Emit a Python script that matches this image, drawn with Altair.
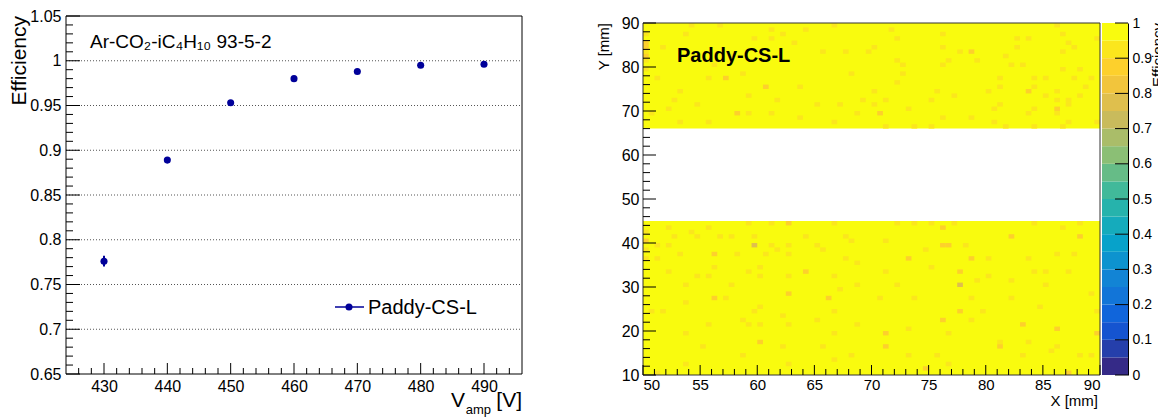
import altair as alt
import pandas as pd

# ---------------- Left panel: efficiency vs amplification voltage ----------------
voltage = [430, 440, 450, 460, 470, 480, 490]
efficiency = [0.776, 0.889, 0.953, 0.980, 0.988, 0.995, 0.996]
eff_error = [0.006, 0.003, 0.002, 0.0015, 0.0012, 0.001, 0.001]
detector_name = "Paddy-CS-L"
gas_label = "Ar-CO₂-iC₄H₁₀ 93-5-2"
v_domain = [424, 496]
eff_domain = [0.65, 1.05]
v_ticks = [430, 440, 450, 460, 470, 480, 490]
v_minor_ticks = [v for v in range(426, 496, 2) if v % 10]
eff_ticks = [0.65, 0.7, 0.75, 0.8, 0.85, 0.9, 0.95, 1.0, 1.05]
eff_minor_ticks = [round(0.65 + 0.01 * i, 2) for i in range(1, 40) if i % 5]
eff_grid = [0.7, 0.75, 0.8, 0.85, 0.9, 0.95, 1.0]

# ---------------- Right panel: efficiency map ----------------
map_x_domain = [50, 90]
map_y_domain = [10, 90]
map_x_ticks = [50, 55, 60, 65, 70, 75, 80, 85, 90]
map_x_minor = [v for v in range(51, 90) if v % 5]
map_y_ticks = [10, 20, 30, 40, 50, 60, 70, 80, 90]
map_y_minor = [v for v in range(12, 90, 2) if v % 10]
bin_width_x = 0.5   # mm
bin_height_y = 1.0  # mm
covered_y_lo = [10, 66]
covered_y_hi = [45, 90]
base_eff = 0.98
# (x bin index from 50 mm, lower y edge in mm) of cells below the top colour band
cells_093 = [
    (8, 89), (13, 89), (22, 88), (24, 87), (28, 88), (33, 89), (0, 87), (0, 83), (0, 81), (0, 79),
    (3, 84), (19, 86), (22, 86), (31, 83), (35, 83), (39, 83), (12, 80), (17, 78), (11, 77), (27, 75),
    (18, 73), (6, 74), (5, 72), (9, 71), (23, 72), (30, 71), (34, 71), (38, 72), (4, 70), (18, 69),
    (22, 69), (27, 68), (37, 69), (6, 67), (11, 67), (33, 67), (2, 77), (1, 69), (36, 78), (15, 82),
    (26, 85), (7, 87),
    (43, 88), (44, 86), (52, 87), (65, 86), (67, 86), (72, 89), (73, 87), (74, 85), (75, 84), (79, 86),
    (40, 84), (52, 84), (55, 83), (65, 84), (73, 83), (63, 82), (44, 81), (53, 81), (58, 81), (45, 80),
    (52, 80), (64, 80), (66, 80), (45, 78), (73, 79), (76, 79), (62, 77), (68, 77), (70, 77), (75, 77),
    (78, 77), (44, 76), (62, 75), (68, 75), (77, 75), (40, 74), (51, 74), (60, 74), (72, 74), (54, 73),
    (70, 73), (42, 72), (50, 72), (72, 72), (74, 72), (76, 73), (40, 71), (62, 71), (74, 71), (46, 70),
    (61, 70), (68, 70), (67, 69), (72, 69), (52, 68), (57, 68), (61, 67), (74, 67), (79, 67), (42, 66),
    (47, 66), (50, 66), (63, 66), (68, 66), (73, 66),
    (0, 42), (0, 38), (0, 36), (4, 43), (5, 41), (8, 42), (9, 41), (11, 43), (13, 41), (15, 41),
    (18, 44), (19, 41), (22, 44), (28, 41), (33, 44), (35, 41), (36, 40), (2, 39), (4, 39), (22, 39),
    (25, 39), (30, 39), (31, 38), (6, 37), (16, 37), (21, 37), (23, 38), (25, 37), (2, 36), (35, 36),
    (37, 35), (12, 34), (18, 33), (20, 34), (9, 32), (11, 32), (20, 32), (25, 32), (33, 32), (4, 33),
    (15, 30), (7, 30), (34, 29), (37, 30), (14, 27), (7, 26), (20, 25), (1, 24), (3, 24), (19, 24),
    (33, 24), (17, 22), (24, 23), (30, 22), (11, 21), (7, 19), (18, 21), (20, 21), (25, 21), (33, 19),
    (37, 21), (24, 16), (31, 16), (10, 16), (36, 14), (17, 14), (25, 12), (33, 13), (2, 10), (7, 12),
    (44, 44), (47, 44), (50, 44), (54, 44), (68, 44), (73, 43), (76, 44), (42, 40), (56, 39), (49, 38),
    (60, 36), (67, 36), (72, 37), (75, 37), (50, 34), (60, 32), (68, 33), (70, 33), (74, 33), (42, 33),
    (44, 30), (58, 31), (64, 31), (70, 30), (78, 28), (41, 27), (47, 27), (57, 27), (64, 27), (59, 24),
    (69, 25), (79, 24), (57, 22), (46, 20), (53, 19), (62, 17), (67, 17), (46, 14), (71, 15), (72, 16),
    (76, 14), (51, 14), (66, 14), (53, 12), (78, 14),
]
cells_088 = [
    (0, 85), (0, 84), (0, 82), (14, 77), (21, 75), (16, 69), (57, 83), (67, 74), (72, 70), (41, 69),
    (0, 40), (25, 44), (12, 37), (28, 33), (12, 27), (25, 28), (32, 27), (20, 17),
    (52, 43), (64, 41), (52, 39), (53, 39), (46, 36), (57, 36), (76, 41), (55, 33), (55, 24), (52, 22),
    (66, 21), (72, 20), (42, 19), (79, 19), (42, 16), (62, 16), (49, 11), (74, 10),
]
cells_078 = [(19, 39), (55, 30)]

# ---------------- Colour bar ----------------
cbar_edges = [round(0.05 * i, 2) for i in range(21)]
cbar_ticks = [0, 0.1, 0.2, 0.3, 0.4, 0.5, 0.6, 0.7, 0.8, 0.9, 1.0]
cbar_x_domain = [0, 1]

# ROOT kBird palette (style)
bird_stops = [0.0, 0.125, 0.25, 0.375, 0.5, 0.625, 0.75, 0.875, 1.0]
bird_r = [0.2082, 0.0592, 0.0780, 0.0232, 0.1802, 0.5301, 0.8186, 0.9956, 0.9764]
bird_g = [0.1664, 0.3599, 0.5041, 0.6419, 0.7178, 0.7492, 0.7328, 0.7862, 0.9832]
bird_b = [0.5293, 0.8684, 0.8385, 0.7914, 0.6425, 0.4662, 0.3499, 0.1968, 0.0539]


def bird(t):
    for k in range(len(bird_stops) - 1):
        a, b = bird_stops[k], bird_stops[k + 1]
        if t <= b or k == len(bird_stops) - 2:
            f = (t - a) / (b - a)
            rgb = [c[k] + f * (c[k + 1] - c[k]) for c in (bird_r, bird_g, bird_b)]
            return "#" + "".join("%02x" % max(0, min(255, round(v * 255))) for v in rgb)


band_colors = [bird(i / 19) for i in range(20)]
color_scale = alt.Scale(type="threshold", domain=cbar_edges[1:-1], range=band_colors)

# ---------------- geometry (page pixels) ----------------
W, H = 1158, 418
FONT = "Liberation Sans"
LX, LY = [66, 522], [374, 16]
RX, RY = [643, 1100], [375, 23]
CX = [1102, 1128]
BLUE = "#000099"
TICK_COLOR = "black"
TICK_WIDTH = 1


def lin(domain, rng):
    return alt.Scale(domain=domain, range=rng, zero=False, nice=False)


def label_axis(orient, offset, values, size=16, pad=4, fmt=None, domain=False):
    kw = dict(orient=orient, offset=offset, values=values, ticks=False, domain=domain,
              grid=False, labelFontSize=size, labelFont=FONT, labelColor="black",
              labelPadding=pad, title=None, labelOverlap=False)
    if fmt:
        kw["format"] = fmt
    if domain:
        kw["domainColor"] = "black"
    return alt.Axis(**kw)


SXL, SYL = lin(v_domain, LX), lin(eff_domain, LY)
SXR, SYR = lin(map_x_domain, RX), lin(map_y_domain, RY)
SXC, SYC = lin(cbar_x_domain, CX), lin([0, 1], RY)


def per_px(domain, rng):
    return (domain[1] - domain[0]) / abs(rng[1] - rng[0])


def yticks(values, xdom, xrng, yscale, x_edge, length_px):
    """Ticks along a vertical axis, as rules spanning from the axis edge inward."""
    d = length_px * per_px(xdom, xrng)
    df = pd.DataFrame({"v": values, "a": x_edge, "b": x_edge + d})
    return alt.Chart(df).mark_rule(color=TICK_COLOR, strokeWidth=TICK_WIDTH).encode(
        x=alt.X("a:Q", scale=lin(xdom, xrng), axis=None), x2="b:Q",
        y=alt.Y("v:Q", scale=yscale, axis=None))


def xticks(values, xscale, ydom, yrng, y_edge, length_px):
    d = length_px * per_px(ydom, yrng)
    df = pd.DataFrame({"v": values, "a": y_edge, "b": y_edge + d})
    return alt.Chart(df).mark_rule(color=TICK_COLOR, strokeWidth=TICK_WIDTH).encode(
        y=alt.Y("a:Q", scale=lin(ydom, yrng), axis=None), y2="b:Q",
        x=alt.X("v:Q", scale=xscale, axis=None))


# ---------------- data frames ----------------
left_df = pd.DataFrame({"V": voltage, "eff": efficiency, "err": eff_error})
left_df["lo"] = left_df["eff"] - left_df["err"]
left_df["hi"] = left_df["eff"] + left_df["err"]
grid_df = pd.DataFrame({"g": eff_grid, "x0": v_domain[0], "x1": v_domain[1]})
lframe_df = pd.DataFrame({"x0": [v_domain[0]], "x1": [v_domain[1]], "y0": [eff_domain[0]], "y1": [eff_domain[1]]})

band_df = pd.DataFrame({"x0": map_x_domain[0], "x1": map_x_domain[1], "y0": covered_y_lo,
                        "y1": covered_y_hi, "eff": base_eff})
rows = []
for lst, val in ((cells_093, 0.93), (cells_088, 0.88), (cells_078, 0.78)):
    for b, y in lst:
        x0 = map_x_domain[0] + b * bin_width_x
        rows.append({"x0": x0, "x1": x0 + bin_width_x, "y0": y, "y1": y + bin_height_y, "eff": val})
cell_df = pd.DataFrame(rows)
rframe_df = pd.DataFrame({"x0": [map_x_domain[0]], "x1": [map_x_domain[1]],
                          "y0": [map_y_domain[0]], "y1": [map_y_domain[1]]})
cb_df = pd.DataFrame({"lo": cbar_edges[:-1], "hi": cbar_edges[1:], "x0": 0, "x1": 1})
cb_df["c"] = cb_df["lo"] + 0.025


def text_layer(txt, x, y, size, align="left", baseline="alphabetic", angle=0, weight="normal"):
    kw = dict(align=align, baseline=baseline, fontSize=size, font=FONT, color="black", fontWeight=weight)
    if angle:
        kw["angle"] = angle
    return alt.Chart(pd.DataFrame({"t": [txt]})).mark_text(**kw).encode(
        x=alt.value(x), y=alt.value(y), text="t:N")


layers = []

# ---- left panel
layers.append(alt.Chart(grid_df).mark_rule(color="#555555", strokeDash=[1, 2], strokeWidth=1).encode(
    x=alt.X("x0:Q", scale=SXL, axis=None), x2="x1:Q",
    y=alt.Y("g:Q", scale=SYL, axis=None)))
layers.append(alt.Chart(lframe_df).mark_rect(fillOpacity=0, stroke="black", strokeWidth=1).encode(
    x=alt.X("x0:Q", scale=SXL, axis=label_axis("bottom", LY[0] - H, v_ticks, pad=4)),
    x2="x1:Q",
    y=alt.Y("y0:Q", scale=SYL, axis=label_axis("left", -LX[0], eff_ticks, pad=5, fmt="~g")),
    y2="y1:Q"))
layers.append(yticks(eff_ticks, v_domain, LX, SYL, v_domain[0], 14))
layers.append(yticks(eff_minor_ticks, v_domain, LX, SYL, v_domain[0], 7))
layers.append(xticks(v_ticks, SXL, eff_domain, LY, eff_domain[0], 11))
layers.append(xticks(v_minor_ticks, SXL, eff_domain, LY, eff_domain[0], 6))
layers.append(alt.Chart(left_df).mark_rule(color=BLUE, strokeWidth=2).encode(
    x=alt.X("V:Q", scale=SXL, axis=None),
    y=alt.Y("lo:Q", scale=SYL, axis=None),
    y2="hi:Q"))
layers.append(alt.Chart(left_df).mark_circle(size=50, color=BLUE, opacity=1).encode(
    x=alt.X("V:Q", scale=SXL, axis=None),
    y=alt.Y("eff:Q", scale=SYL, axis=None)))
layers.append(text_layer(gas_label, 90, 48, 19))
# legend entry
layers.append(alt.Chart(pd.DataFrame({"t": [detector_name]})).mark_rule(color=BLUE, strokeWidth=1.5).encode(
    x=alt.value(335), x2=alt.value(364), y=alt.value(307)))
layers.append(alt.Chart(pd.DataFrame({"t": [detector_name]})).mark_circle(size=50, color=BLUE, opacity=1).encode(
    x=alt.value(349), y=alt.value(307)))
layers.append(text_layer(detector_name, 368, 314, 20))
# axis titles
layers.append(text_layer("Efficiency", 9, 16, 21, align="right", baseline="top", angle=270))
layers.append(text_layer("[V]", 522, 407, 21, align="right"))
layers.append(text_layer("amp", 491, 414, 13, align="right"))
layers.append(text_layer("V", 465, 407, 21, align="right"))

# ---- right panel
layers.append(alt.Chart(band_df).mark_rect().encode(
    x=alt.X("x0:Q", scale=SXR, axis=label_axis("bottom", RY[0] - H, map_x_ticks, size=15, pad=2)),
    x2="x1:Q",
    y=alt.Y("y0:Q", scale=SYR, axis=label_axis("left", -RX[0], map_y_ticks, size=16, pad=4)),
    y2="y1:Q",
    color=alt.Color("eff:Q", scale=color_scale, legend=None)))
layers.append(alt.Chart(cell_df).mark_rect().encode(
    x=alt.X("x0:Q", scale=SXR, axis=None),
    x2="x1:Q",
    y=alt.Y("y0:Q", scale=SYR, axis=None),
    y2="y1:Q",
    color=alt.Color("eff:Q", scale=color_scale, legend=None)))
layers.append(alt.Chart(rframe_df).mark_rect(fillOpacity=0, stroke="#333333", strokeWidth=1).encode(
    x=alt.X("x0:Q", scale=SXR, axis=None),
    x2="x1:Q",
    y=alt.Y("y0:Q", scale=SYR, axis=None),
    y2="y1:Q"))
layers.append(yticks(map_y_ticks, map_x_domain, RX, SYR, map_x_domain[0], 13))
layers.append(yticks(map_y_minor, map_x_domain, RX, SYR, map_x_domain[0], 7))
layers.append(xticks(map_x_ticks, SXR, map_y_domain, RY, map_y_domain[0], 10))
layers.append(xticks(map_x_minor, SXR, map_y_domain, RY, map_y_domain[0], 6))
layers.append(text_layer(detector_name, 677, 62, 20, weight="bold"))
layers.append(text_layer("Y [mm]", 597, 23, 15, align="right", baseline="top", angle=270))
layers.append(text_layer("X [mm]", 1098, 406, 15, align="right"))

# ---- colour bar
layers.append(alt.Chart(cb_df).mark_rect().encode(
    x=alt.X("x0:Q", scale=SXC, axis=None), x2="x1:Q",
    y=alt.Y("lo:Q", scale=SYC, axis=label_axis("right", CX[1] - W, cbar_ticks, size=14, pad=4,
                                               fmt="~g", domain=True)),
    y2="hi:Q",
    color=alt.Color("c:Q", scale=color_scale, legend=None)))
layers.append(yticks(cbar_ticks, cbar_x_domain, CX, SYC, cbar_x_domain[1], -13))
layers.append(text_layer("Efficiency", 1151, 23, 15, align="right", baseline="top", angle=270))

chart = alt.layer(*layers).resolve_scale(x="independent", y="independent").properties(
    width=W, height=H, autosize=alt.AutoSizeParams(type="none"), padding=0, background="white"
).configure_view(strokeWidth=0)

chart.save("out.html", embed_options={"renderer": "svg", "actions": False})
